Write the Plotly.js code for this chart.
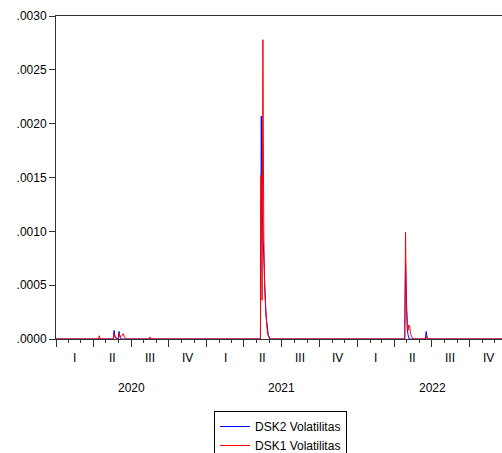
<!DOCTYPE html>
<html>
<head>
<meta charset="utf-8">
<script src="https://cdn.plot.ly/plotly-3.0.1.min.js"></script>
<style>
html,body{margin:0;padding:0;background:#fff;}
#chart{width:502px;height:453px;}
</style>
</head>
<body>
<div id="chart"></div>
<script>
// DSK2 Volatilitas (blue)
var dsk2Dates = ['2020-01-01','2020-05-19','2020-05-21','2020-05-23','2020-05-31','2020-06-02','2020-06-04','2020-06-07',
  '2021-05-11','2021-05-13','2021-05-15','2021-05-18','2021-05-21','2021-05-23','2021-05-25','2021-05-27','2021-05-30','2021-06-03',
  '2022-04-26','2022-04-28','2022-04-30','2022-05-02','2022-05-04','2022-05-07',
  '2022-06-15','2022-06-17','2022-06-19','2022-06-21','2022-12-18'];
var dsk2Values = [0,0,0.00008,0.00002,0,0.00007,0.00002,0,
  0,0.00207,0.0012,0.0008,0.0005,0.00035,0.0002,0.0001,0.00004,0,
  0,0.0007,0.00025,0.0001,0.00004,0,
  0,0.00007,0.00002,0,0];

// DSK1 Volatilitas (red)
var dsk1Dates = ['2020-01-01','2020-04-13','2020-04-15','2020-04-17','2020-05-19','2020-05-21','2020-05-24','2020-05-31',
  '2020-06-02','2020-06-05','2020-06-09','2020-06-12','2020-06-15','2020-06-19','2020-08-14','2020-08-16','2020-08-18',
  '2021-05-11','2021-05-12','2021-05-13','2021-05-15','2021-05-17','2021-05-19','2021-05-21','2021-05-24','2021-05-26','2021-05-28','2021-06-01','2021-06-04',
  '2022-04-26','2022-04-28','2022-04-30','2022-05-02','2022-05-04','2022-05-06','2022-05-08','2022-05-10','2022-05-13','2022-05-17',
  '2022-06-16','2022-06-18','2022-06-20','2022-12-18'];
var dsk1Values = [0,0,0.00003,0,0,0.00005,0.00001,0,
  0.00005,0.00002,0.00003,0.00005,0.00002,0,0,0.00002,0,
  0,0.00152,0.00152,0.00036,0.00278,0.0010,0.0005,0.00025,0.00012,0.00005,0.00001,0,
  0,0.00099,0.0003,0.00015,0.00008,0.00013,0.00012,0.00005,0.00002,0,
  0,0.00003,0,0];

var seriesNames = ['DSK2 Volatilitas','DSK1 Volatilitas'];

// y ticks
var yTickVals = [0,0.0005,0.0010,0.0015,0.0020,0.0025,0.0030];
var yTickText = ['.0000','.0005','.0010','.0015','.0020','.0025','.0030'];

// x labels
var quarterLabels = ['I','II','III','IV'];
var quarterMids = ['-02-15','-05-16','-08-15','-11-15'];
var years = ['2020','2021','2022'];

var font = 'Liberation Sans, Arial, sans-serif';
var annotations = [];
years.forEach(function(yr){
  quarterLabels.forEach(function(q,i){
    annotations.push({x: yr+quarterMids[i], y:0, xref:'x', yref:'paper', text:q, showarrow:false,
      yanchor:'middle', yshift:-18.5, font:{family:font,size:12,color:'#000'}});
  });
  annotations.push({x: yr+'-07-02', y:0, xref:'x', yref:'paper', text:yr, showarrow:false,
    yanchor:'middle', yshift:-49, font:{family:font,size:12,color:'#000'}});
});

var traces = [
  {x:dsk2Dates, y:dsk2Values, type:'scatter', mode:'lines', name:seriesNames[0], line:{color:'#0000FF', width:1}},
  {x:dsk1Dates, y:dsk1Values, type:'scatter', mode:'lines', name:seriesNames[1], line:{color:'#FF0000', width:1}}
];

var layout = {
  width:502, height:453,
  margin:{l:56, r:0, t:16, b:114, pad:0, autoexpand:false},
  paper_bgcolor:'#fff', plot_bgcolor:'#fff',
  font:{family:font, size:12, color:'#000'},
  showlegend:true,
  legend:{x:(214-56)/446, y:(339-411)/323, xanchor:'left', yanchor:'top',
    bordercolor:'#000', borderwidth:1, bgcolor:'#fff', font:{family:font,size:12,color:'#000'},
    tracegroupgap:0},
  xaxis:{type:'date', range:['2020-01-01','2022-12-18'], showgrid:false, zeroline:false,
    showline:true, mirror:true, linecolor:'#333', linewidth:1,
    tickmode:'linear', tick0:'2020-01-01', dtick:'M3', ticks:'outside', ticklen:7, tickcolor:'#333', tickwidth:1,
    showticklabels:false,
    minor:{tick0:'2020-01-01', dtick:'M1', ticks:'outside', ticklen:3, tickcolor:'#333', tickwidth:1, showgrid:false},
    layer:'below traces', fixedrange:true},
  yaxis:{range:[0,0.003], showgrid:false, zeroline:false, showline:true, mirror:false, linecolor:'#333', linewidth:1,
    tickmode:'array', tickvals:yTickVals, ticktext:yTickText, ticks:'outside', ticklen:6, tickcolor:'#333',
    tickfont:{family:font,size:12,color:'#000'}, layer:'below traces', fixedrange:true},
  annotations:annotations
};

Plotly.newPlot('chart', traces, layout, {staticPlot:true, displayModeBar:false});
</script>
</body>
</html>
